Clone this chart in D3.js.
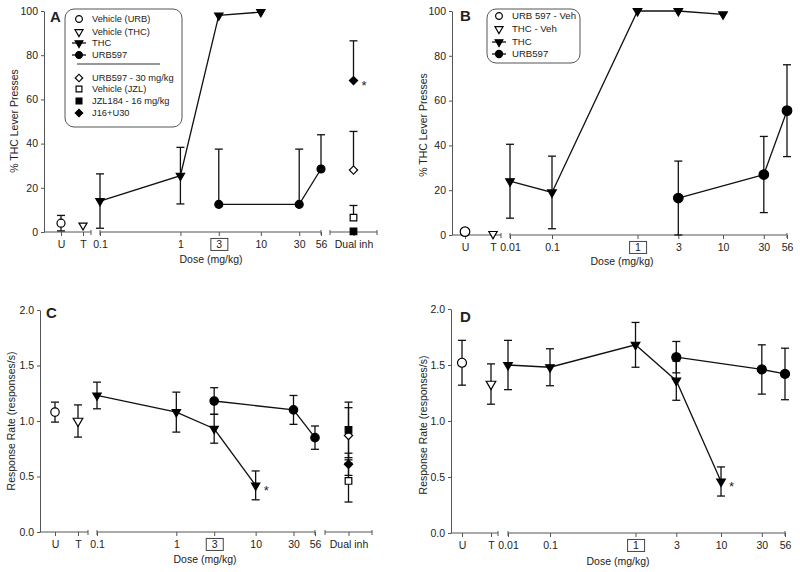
<!DOCTYPE html>
<html><head><meta charset="utf-8">
<script src="https://cdn.jsdelivr.net/npm/d3@7"></script>
<style>body{margin:0;background:#fff} text{font-family:Arial,"Liberation Sans",sans-serif;fill:#222}</style>
</head><body><svg id="c" width="800" height="572"></svg>
<script>
// ---------- DATA ----------
const controlCats = ["U", "T"];
const dualCats = ["Dual inh"];
const dosesAC = [0.1, 1, 3, 10, 30, 56];
const dosesBD = [0.01, 0.1, 1, 3, 10, 30, 56];
const pctTicks = [0, 20, 40, 60, 80, 100];
const rateTicks = [0, 0.5, 1.0, 1.5, 2.0];

// Panel A: % THC lever presses (THC training)
const aControlVals = [4, 3];
const aControlErrUp = [3.5, 0];
const aControlErrDn = [3.5, 0];
const aThcDoses = [0.1, 1, 3, 10];
const aThcVals = [14, 25.5, 98, 99.5];
const aThcErrUp = [12.3, 12.8, 0, 0];
const aThcErrDn = [12.3, 12.8, 0, 0];
const aUrbDoses = [3, 30, 56];
const aUrbVals = [12.5, 12.5, 28.5];
const aUrbErrUp = [25, 25, 15.5];
const aUrbErrDn = [0, 0, 0];
const aDualNames = ["URB597 - 30 mg/kg", "Vehicle  (JZL)", "JZL184 - 16 mg/kg", "J16+U30"];
const aDualVals = [28, 6.5, 0.3, 68.5];
const aDualErrUp = [17.5, 5.5, 0, 18];
const aDualErrDn = [0, 0, 0, 0];

// Panel B
const bControlVals = [1.5, 0.5];
const bControlErrUp = [0, 0];
const bControlErrDn = [0, 0];
const bThcDoses = [0.01, 0.1, 1, 3, 10];
const bThcVals = [24, 19, 100, 100, 98.5];
const bThcErrUp = [16.5, 16.2, 0, 0, 0];
const bThcErrDn = [16.5, 16.2, 0, 0, 0];
const bUrbDoses = [3, 30, 56];
const bUrbVals = [16.5, 27, 55.5];
const bUrbErrUp = [16.5, 17, 20.5];
const bUrbErrDn = [16.5, 17, 20.5];

// Panel C: response rate
const cControlVals = [1.08, 1.0];
const cControlErrUp = [0.09, 0.145];
const cControlErrDn = [0.09, 0.145];
const cThcDoses = [0.1, 1, 3, 10];
const cThcVals = [1.23, 1.08, 0.93, 0.42];
const cThcErrUp = [0.12, 0.18, 0.13, 0.13];
const cThcErrDn = [0.12, 0.18, 0.13, 0.13];
const cUrbDoses = [3, 30, 56];
const cUrbVals = [1.18, 1.10, 0.85];
const cUrbErrUp = [0.12, 0.13, 0.105];
const cUrbErrDn = [0.12, 0.13, 0.105];
const cDualVals = [0.87, 0.46, 0.92, 0.61];
const cDualErrUp = [0.25, 0.19, 0.25, 0.1];
const cDualErrDn = [0.25, 0.19, 0.25, 0.1];

// Panel D
const dControlVals = [1.52, 1.33];
const dControlErrUp = [0.2, 0.18];
const dControlErrDn = [0.2, 0.18];
const dThcDoses = [0.01, 0.1, 1, 3, 10];
const dThcVals = [1.50, 1.48, 1.68, 1.36, 0.46];
const dThcErrUp = [0.22, 0.165, 0.2, 0.175, 0.13];
const dThcErrDn = [0.22, 0.165, 0.2, 0.175, 0.13];
const dUrbDoses = [3, 30, 56];
const dUrbVals = [1.57, 1.46, 1.42];
const dUrbErrUp = [0.14, 0.22, 0.23];
const dUrbErrDn = [0.14, 0.22, 0.23];

const legendA = ["Vehicle (URB)", "Vehicle  (THC)", "THC", "URB597", "URB597 - 30 mg/kg", "Vehicle  (JZL)", "JZL184 - 16 mg/kg", "J16+U30"];
const legendB = ["URB 597 - Veh", "THC -  Veh", "THC", "URB597"];
const controlSyms = ["circle", "tri"];
const dualSyms = [["diamond", false], ["square", false], ["square", true], ["diamond", true]];

// ---------- DRAWING ----------
const svg = d3.select("#c");
const AX = "#555";
const FS = "10.5px";

function symPath(type, size) {
  const t = type === "circle" ? d3.symbolCircle : type === "tri" ? d3.symbolTriangle : d3.symbolSquare;
  return d3.symbol().type(t).size(size)();
}
function symRot(type) { return type === "tri" ? 180 : type === "diamond" ? 45 : 0; }
function drawSym(g, type, x, y, size, filled) {
  g.append("path").attr("d", symPath(type, size))
    .attr("transform", `translate(${x},${y}) rotate(${symRot(type)})`)
    .attr("fill", filled ? "#000" : "#fff").attr("stroke", "#000").attr("stroke-width", 1.2);
}
function errBar(g, x, y, v, up, dn, cap) {
  if (up > 0) {
    g.append("line").attr("x1", x).attr("x2", x).attr("y1", y(v)).attr("y2", y(v + up)).attr("stroke", "#111").attr("stroke-width", 1.3);
    g.append("line").attr("x1", x - cap).attr("x2", x + cap).attr("y1", y(v + up)).attr("y2", y(v + up)).attr("stroke", "#111").attr("stroke-width", 1.3);
  }
  if (dn > 0) {
    g.append("line").attr("x1", x).attr("x2", x).attr("y1", y(v)).attr("y2", y(Math.max(0, v - dn))).attr("stroke", "#111").attr("stroke-width", 1.3);
    g.append("line").attr("x1", x - cap).attr("x2", x + cap).attr("y1", y(Math.max(0, v - dn))).attr("y2", y(Math.max(0, v - dn))).attr("stroke", "#111").attr("stroke-width", 1.3);
  }
}

function panel(p) {
  const g = svg.append("g");
  const y = d3.scaleLinear().domain(p.yDomain).range(p.yRange);
  const xc = d3.scalePoint().domain(controlCats).range(p.ctrlRange);
  const xd = d3.scaleLog().domain(p.doseDomain).range(p.doseRange);
  const xu = p.dualRange ? d3.scalePoint().domain(dualCats).range(p.dualRange).padding(0.5) : null;
  const y0 = p.yRange[0];

  // y axis
  const ya = g.append("g").attr("transform", `translate(${p.yAxisX},0)`)
    .call(d3.axisLeft(y).tickValues(p.yTicks).tickSize(3).tickPadding(3).tickSizeOuter(0).tickFormat(p.yFmt));
  ya.select(".domain").attr("stroke", AX);
  ya.selectAll(".tick line").attr("stroke", AX);
  ya.selectAll("text").style("font-size", FS).attr("fill", "#222");

  // x axis segments
  function seg(scale, ticks, x1, x2, fmt, capStart) {
    const a = g.append("g").attr("transform", `translate(0,${y0})`)
      .call(d3.axisBottom(scale).tickValues(ticks).tickSize(4).tickPadding(5).tickSizeOuter(0).tickFormat(fmt));
    a.select(".domain").remove();
    a.selectAll(".tick line").attr("stroke", AX);
    a.selectAll("text").style("font-size", FS).attr("fill", "#222");
    a.append("line").attr("x1", x1).attr("x2", x2).attr("y1", 0).attr("y2", 0).attr("stroke", AX);
    if (capStart) a.append("line").attr("x1", x1).attr("x2", x1).attr("y1", -2).attr("y2", 3).attr("stroke", AX);
    a.append("line").attr("x1", x2).attr("x2", x2).attr("y1", -2).attr("y2", 3).attr("stroke", AX);
    return a;
  }
  seg(xc, controlCats, p.yAxisX, p.ctrlSegEnd, d => d, false);
  const ds = seg(xd, p.doseTicks, p.doseRange[0], p.doseRange[p.doseRange.length - 1], d => String(d), true);
  if (xu) seg(xu, dualCats, p.dualRange[0], p.dualRange[1], d => d, true);
  // boxed tick label
  ds.selectAll(".tick").filter(d => d === p.boxed).each(function () {
    const t = d3.select(this).select("text");
    const bb = t.node().getBBox();
    d3.select(this).insert("rect", "text").attr("x", bb.x - 5.5).attr("y", bb.y).attr("width", bb.width + 11).attr("height", bb.height)
      .attr("fill", "none").attr("stroke", "#444").attr("stroke-width", 1);
  });

  // titles
  g.append("text").attr("transform", `translate(${p.yTitle[0]},${p.yTitle[1]}) rotate(-90)`).attr("text-anchor", "middle")
    .attr("dy", "0.35em").style("font-size", FS).text(p.yLabel);
  g.append("text").attr("x", p.xTitle[0]).attr("y", p.xTitle[1]).attr("text-anchor", "middle").attr("dy", "0.35em")
    .style("font-size", FS).text("Dose (mg/kg)");
  g.append("text").attr("x", p.letter[0]).attr("y", p.letter[1]).style("font-size", "15px").style("font-weight", "bold").attr("fill", "#111").text(p.letterText);

  const cap = 4;
  controlCats.forEach((c, i) => {
    errBar(g, xc(c), y, p.ctrlVals[i], p.ctrlUp[i], p.ctrlDn[i], cap);
  });
  p.thcDoses.forEach((d, i) => errBar(g, xd(d), y, p.thcVals[i], p.thcUp[i], p.thcDn[i], cap));
  p.urbDoses.forEach((d, i) => errBar(g, xd(d), y, p.urbVals[i], p.urbUp[i], p.urbDn[i], cap));
  if (xu) p.dualVals.forEach((v, i) => errBar(g, xu(dualCats[0]), y, v, p.dualUp[i], p.dualDn[i], cap));

  const line = d3.line();
  g.append("path").attr("d", line(p.thcDoses.map((d, i) => [xd(d), y(p.thcVals[i])]))).attr("fill", "none").attr("stroke", "#111").attr("stroke-width", 1.3);
  g.append("path").attr("d", line(p.urbDoses.map((d, i) => [xd(d), y(p.urbVals[i])]))).attr("fill", "none").attr("stroke", "#111").attr("stroke-width", 1.3);

  controlCats.forEach((c, i) => drawSym(g, controlSyms[i], xc(c), y(p.ctrlVals[i]), controlSyms[i] === "circle" ? p.circ : p.triOpen, false));
  p.thcDoses.forEach((d, i) => drawSym(g, "tri", xd(d), y(p.thcVals[i]), p.tri, true));
  p.urbDoses.forEach((d, i) => drawSym(g, "circle", xd(d), y(p.urbVals[i]), p.circ, true));
  if (xu) p.dualVals.forEach((v, i) => drawSym(g, dualSyms[i][0], xu(dualCats[0]), y(v), dualSyms[i][0] === "diamond" ? 34 : 44, dualSyms[i][1]));

  p.stars.forEach(s => {
    const sx = s.type === "dual" ? xu(dualCats[0]) : xd(s.dose);
    g.append("text").attr("x", sx + 8).attr("y", y(s.v)).attr("dy", "0.75em").style("font-size", "13px").attr("fill", "#111").text("*");
  });
  return g;
}

panel({
  letterText: "A", letter: [50, 22], yAxisX: 44, yDomain: [0, 100], yRange: [232, 11], yTicks: pctTicks, yFmt: d3.format("d"),
  ctrlRange: [61, 83], ctrlSegEnd: 91, doseDomain: [0.1, 56], doseRange: [100, 321], doseTicks: dosesAC, dualRange: [330, 377],
  boxed: 3, yLabel: "% THC Lever Presses", yTitle: [14, 121], xTitle: [211, 259],
  ctrlVals: aControlVals, ctrlUp: aControlErrUp, ctrlDn: aControlErrDn,
  thcDoses: aThcDoses, thcVals: aThcVals, thcUp: aThcErrUp, thcDn: aThcErrDn,
  urbDoses: aUrbDoses, urbVals: aUrbVals, urbUp: aUrbErrUp, urbDn: aUrbErrDn,
  dualVals: aDualVals, dualUp: aDualErrUp, dualDn: aDualErrDn,
  circ: 50, tri: 30, triOpen: 28, stars: [{ type: "dual", v: aDualVals[3] }]
});
panel({
  letterText: "B", letter: [460, 21], yAxisX: 452, yDomain: [0, 100], yRange: [235, 11], yTicks: pctTicks, yFmt: d3.format("d"),
  ctrlRange: [465, 493], ctrlSegEnd: 501, doseDomain: [0.01, 0.1, 56], doseRange: [510, 552, 787], doseTicks: dosesBD, dualRange: null,
  boxed: 1, yLabel: "% THC Lever Presses", yTitle: [423, 125], xTitle: [622, 261],
  ctrlVals: bControlVals, ctrlUp: bControlErrUp, ctrlDn: bControlErrDn,
  thcDoses: bThcDoses, thcVals: bThcVals, thcUp: bThcErrUp, thcDn: bThcErrDn,
  urbDoses: bUrbDoses, urbVals: bUrbVals, urbUp: bUrbErrUp, urbDn: bUrbErrDn,
  circ: 72, tri: 32, triOpen: 30, stars: []
});
panel({
  letterText: "C", letter: [46, 318], yAxisX: 40, yDomain: [0, 2], yRange: [532, 310], yTicks: rateTicks, yFmt: d3.format(".1f"),
  ctrlRange: [55, 78], ctrlSegEnd: 88, doseDomain: [0.1, 56], doseRange: [97, 315], doseTicks: dosesAC, dualRange: [325, 372],
  boxed: 3, yLabel: "Response Rate (responses/s)", yTitle: [11, 421], xTitle: [205, 559],
  ctrlVals: cControlVals, ctrlUp: cControlErrUp, ctrlDn: cControlErrDn,
  thcDoses: cThcDoses, thcVals: cThcVals, thcUp: cThcErrUp, thcDn: cThcErrDn,
  urbDoses: cUrbDoses, urbVals: cUrbVals, urbUp: cUrbErrUp, urbDn: cUrbErrDn,
  dualVals: cDualVals, dualUp: cDualErrUp, dualDn: cDualErrDn,
  circ: 56, tri: 30, triOpen: 40, stars: [{ type: "dose", dose: 10, v: cThcVals[3] }]
});
panel({
  letterText: "D", letter: [460, 322], yAxisX: 451, yDomain: [0, 2], yRange: [533, 309], yTicks: rateTicks, yFmt: d3.format(".1f"),
  ctrlRange: [462, 491], ctrlSegEnd: 498, doseDomain: [0.01, 0.1, 56], doseRange: [508, 550, 785], doseTicks: dosesBD, dualRange: null,
  boxed: 1, yLabel: "Response Rate (responses/s)", yTitle: [423, 425], xTitle: [618, 561],
  ctrlVals: dControlVals, ctrlUp: dControlErrUp, ctrlDn: dControlErrDn,
  thcDoses: dThcDoses, thcVals: dThcVals, thcUp: dThcErrUp, thcDn: dThcErrDn,
  urbDoses: dUrbDoses, urbVals: dUrbVals, urbUp: dUrbErrUp, urbDn: dUrbErrDn,
  circ: 64, tri: 32, triOpen: 40, stars: [{ type: "dose", dose: 10, v: dThcVals[4] }]
});

// ---------- LEGENDS ----------
function legend(box, rows, items, symX, textX, fs, sepY) {
  const g = svg.append("g");
  g.append("rect").attr("x", box[0]).attr("y", box[1]).attr("width", box[2]).attr("height", box[3]).attr("rx", 9)
    .attr("fill", "#fff").attr("stroke", "#555").attr("stroke-width", 1);
  items.forEach((it, i) => {
    const yy = rows[i];
    if (it.line) g.append("line").attr("x1", symX - 7).attr("x2", symX + 7).attr("y1", yy).attr("y2", yy).attr("stroke", "#111").attr("stroke-width", 1.3);
    drawSym(g, it.sym, symX, yy, it.size, it.filled);
    g.append("text").attr("x", textX).attr("y", yy).attr("dy", "0.35em").style("font-size", fs).text(it.label);
  });
  if (sepY) g.append("line").attr("x1", symX - 2).attr("x2", symX + 81).attr("y1", sepY).attr("y2", sepY).attr("stroke", "#333").attr("stroke-width", 1.2);
}
legend([65, 9, 117, 118], [19, 32, 43, 55, 78, 89, 101, 113], [
  { sym: "circle", filled: false, size: 36, label: legendA[0] },
  { sym: "tri", filled: false, size: 28, label: legendA[1] },
  { sym: "tri", filled: true, size: 26, line: true, label: legendA[2] },
  { sym: "circle", filled: true, size: 36, line: true, label: legendA[3] },
  { sym: "diamond", filled: false, size: 28, label: legendA[4] },
  { sym: "square", filled: false, size: 34, label: legendA[5] },
  { sym: "square", filled: true, size: 34, label: legendA[6] },
  { sym: "diamond", filled: true, size: 28, label: legendA[7] }
], 79, 92, "9.3px", 64);
legend([487, 9, 93, 54], [16, 29, 42, 54], [
  { sym: "circle", filled: false, size: 36, label: legendB[0] },
  { sym: "tri", filled: false, size: 28, label: legendB[1] },
  { sym: "tri", filled: true, size: 26, line: true, label: legendB[2] },
  { sym: "circle", filled: true, size: 40, line: true, label: legendB[3] }
], 499, 512, "9.6px", null);
</script></body></html>
